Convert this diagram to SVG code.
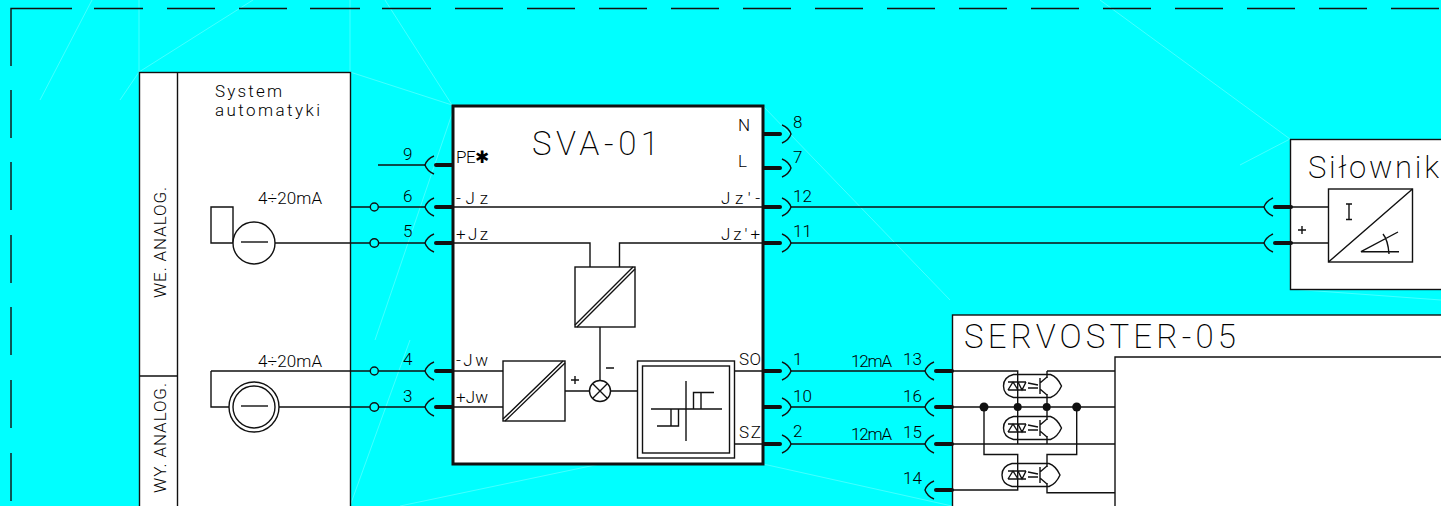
<svg xmlns="http://www.w3.org/2000/svg" xmlns:xlink="http://www.w3.org/1999/xlink" width="1441" height="506" viewBox="0 0 1441 506">
<style>
.l{fill:none;stroke:#111;stroke-width:1.4}
.b{fill:#fff;stroke:#111;stroke-width:1.4}
.dash{fill:none;stroke:#111;stroke-width:1.4}
.f{fill:none;stroke:#fff;stroke-width:.6;opacity:.45}
.dot{fill:#111;stroke:none}
.t{font-family:"Roboto","Liberation Sans",sans-serif;font-weight:300;fill:#000;font-size:17px}
.big{font-size:33px;font-weight:200}
.bar{stroke:#111;stroke-width:4;stroke-linecap:round;fill:none}
</style>
<defs>
<g id="tl"><path class="l" d="M9,-9Q2,-6 0,0Q2,6 9,9"/><path class="bar" d="M11,0H27"/></g>
<g id="tr"><path class="l" d="M-9,-9Q-2,-6 0,0Q-2,6 -9,9"/><path class="bar" d="M-27,0H-11"/></g>
<g id="opto">
<path class="l" d="M0,-4H18M0,4H18M0,4L5,-4L10,4M10,-4L14,4L18,-4"/>
<path class="l" d="M20,-3L30,-1M20,2H30"/>
<path class="l" d="M32,-8V8M32,-3L39,-9M32,3L39,9"/>
</g>
<path id="shell" class="l" d="M10,-11.500H47Q54,-9 58,0Q54,9 47,11.500H10Q0,9 0,0Q0,-9 10,-11.500Z"/>
</defs>
<rect width="1441" height="506" fill="#0ff"/>
<g id="background-lines">
<path class="f" d="M139,72V0M139,72L253,0M350,72V0M385,0L452,105M350,72L452,105M139,72L120,100M92,0L40,100M763,106L950,300M763,464L952,506M600,464L400,506M350,506L410,340M455,105L375,340M1290,139L1240,165M1290,289L1441,300M1100,0L1290,139"/>
</g>
<g id="frame">
<path class="dash" d="M11,66V8.500H72M94,8.500H143M167,8.500H215M239,8.500H287M310,8.500H360M382,8.500H431M455,8.500H503M527,8.500H575M599,8.500H647M671,8.500H719M743,8.500H791M815,8.500H863M887,8.500H935M959,8.500H1007M1031,8.500H1079M1103,8.500H1151M1175,8.500H1223M1247,8.500H1295M1319,8.500H1367M1391,8.500H1439"/>
<path class="dash" d="M11,90V138M11,162V210M11,235V283M11,307V355M11,380V428M11,453V501"/>
</g>
<g id="system-automatyki">
<rect class="b" x="139.500" y="72.500" width="211" height="440"/>
<path class="l" d="M177.500,72.500V506M139.500,376H177.500"/>
<text class="t" x="215" y="97" textLength="67" lengthAdjust="spacing">System</text>
<text class="t" x="215" y="116" textLength="105" lengthAdjust="spacing">automatyki</text>
<text class="t" transform="translate(166,298) rotate(-90)" textLength="111" lengthAdjust="spacing">WE. ANALOG.</text>
<text class="t" transform="translate(166,493) rotate(-90)" textLength="110" lengthAdjust="spacing">WY. ANALOG.</text>
<text class="t" x="258" y="204" textLength="64" lengthAdjust="spacing">4÷20mA</text>
<text class="t" x="258" y="367" textLength="64" lengthAdjust="spacing">4÷20mA</text>
<path class="l" d="M233,243H211V207H233V243"/>
<circle class="b" cx="254" cy="243" r="21"/>
<path class="l" d="M241,242H268"/>
<circle class="b" cx="254" cy="407" r="25"/>
<circle class="b" cx="254" cy="407" r="21"/>
<path class="l" d="M241,406H268"/>
</g>
<g id="sva-01">
<rect x="453" y="106" width="310" height="358" fill="#fff" stroke="#111" stroke-width="3"/>
<text class="t big" x="532" y="155" textLength="127" lengthAdjust="spacing">SVA-01</text>
<text class="t" x="456" y="163" textLength="33" lengthAdjust="spacing">PE✱</text>
<text class="t" x="456" y="204" textLength="32" lengthAdjust="spacing">-Jz</text>
<text class="t" x="456" y="240" textLength="32" lengthAdjust="spacing">+Jz</text>
<text class="t" x="456" y="366" textLength="32" lengthAdjust="spacing">-Jw</text>
<text class="t" x="456" y="403" textLength="32" lengthAdjust="spacing">+Jw</text>
<text class="t" x="738" y="131">N</text>
<text class="t" x="738" y="167">L</text>
<text class="t" x="721" y="204" textLength="39" lengthAdjust="spacing">Jz'-</text>
<text class="t" x="721" y="240" textLength="39" lengthAdjust="spacing">Jz'+</text>
<text class="t" x="739" y="365" textLength="22" lengthAdjust="spacing">SO</text>
<text class="t" x="739" y="438" textLength="22" lengthAdjust="spacing">SZ</text>
<rect class="b" x="575" y="267" width="60" height="60"/>
<path class="l" d="M575,325L633,267M577,327L635,269"/>
<rect class="b" x="503" y="361" width="62" height="60"/>
<path class="l" d="M503,419L563,361M505,421L565,363"/>
<circle class="b" cx="600" cy="391" r="10.500"/>
<path class="l" d="M592.500,383.500L607.500,398.500M607.500,383.500L592.500,398.500"/>
<path class="l" d="M571,380H579M575,376V384M606,368H614"/>
<rect class="b" x="637.500" y="361" width="97" height="97"/>
<rect class="b" x="642.500" y="366" width="87" height="87"/>
<path class="l" d="M686,381V441M651,409H722M693.500,409V392.500H714M701,392.500V409M657,426H678.500V409M671,409V426"/>
</g>
<g id="silownik">
<rect class="b" x="1290.500" y="139.500" width="160" height="150"/>
<text class="t big" x="1308" y="178" style="font-size:31px" textLength="131" lengthAdjust="spacing">Siłownik</text>
<rect class="b" x="1328.500" y="189" width="84" height="73"/>
<path class="l" d="M1328.500,262L1412.500,189M1346,204H1352M1349,204V219.500M1346,219.500H1352M1399,251.700H1361L1398,232M1383,234Q1388,240 1389,254M1298,230H1306M1302,226V234"/>
</g>
<g id="servoster-05">
<rect class="b" x="952.500" y="315" width="500" height="200"/>
<text class="t big" x="964" y="348" textLength="272" lengthAdjust="spacing">SERVOSTER-05</text>
<path class="l" d="M1450,357H1115V506"/>
<g id="opto-1"><use xlink:href="#shell" href="#shell" x="1003.500" y="386"/><use xlink:href="#opto" href="#opto" x="1008" y="386"/></g>
<g id="opto-2"><use xlink:href="#shell" href="#shell" x="1003.500" y="428"/><use xlink:href="#opto" href="#opto" x="1008" y="428"/></g>
<g id="opto-3"><use xlink:href="#shell" href="#shell" x="1002" y="475"/><use xlink:href="#opto" href="#opto" x="1008" y="475"/></g>
</g>
<g id="connectors">
<path class="l" d="M350,207H370M378.500,207H425M275,243H370M378.500,243H425M378,165H425"/>
<path class="l" d="M211,371H370M378.500,371H425M279,407H370M378.500,407H425M211,371V407H229"/>
<circle class="l" cx="374.300" cy="207" r="4"/>
<circle class="l" cx="374.300" cy="243" r="4.300"/>
<circle class="l" cx="374.300" cy="371" r="4"/>
<circle class="l" cx="374.300" cy="407" r="4.300"/>
<use xlink:href="#tl" href="#tl" x="425" y="165"/>
<use xlink:href="#tl" href="#tl" x="425" y="207"/>
<use xlink:href="#tl" href="#tl" x="425" y="243"/>
<use xlink:href="#tl" href="#tl" x="425" y="371"/>
<use xlink:href="#tl" href="#tl" x="425" y="407"/>
<use xlink:href="#tr" href="#tr" x="791" y="134"/>
<use xlink:href="#tr" href="#tr" x="791" y="168"/>
<use xlink:href="#tr" href="#tr" x="791" y="207"/>
<use xlink:href="#tr" href="#tr" x="791" y="243"/>
<use xlink:href="#tr" href="#tr" x="791" y="371"/>
<use xlink:href="#tr" href="#tr" x="791" y="407"/>
<use xlink:href="#tr" href="#tr" x="791" y="444"/>
<use xlink:href="#tl" href="#tl" x="1264" y="207"/>
<use xlink:href="#tl" href="#tl" x="1264" y="243"/>
<use xlink:href="#tl" href="#tl" x="925" y="371"/>
<use xlink:href="#tl" href="#tl" x="925" y="407"/>
<use xlink:href="#tl" href="#tl" x="925" y="444"/>
<use xlink:href="#tl" href="#tl" x="925" y="490"/>
<path class="l" d="M453,207H763M453,243H590V267M763,243H619.500V267M453,371H503M453,407H503M565,391H589.500M610.500,391H637.500M600,327V380.500M734.500,371H763M734.500,444H763"/>
<path class="l" d="M791,207H1264M791,243H1264M1290,207H1328.500M1290,243H1328.500M791,371H925M791,407H925M791,444H925"/>
<path class="l" d="M952,371H1017.700V444M1047,371H1115M1047,371V378M1047,394V420M1047,436V444M952,407H1115M952,444H1115"/>
<path class="l" d="M984,407V454.500H1017.700V490H952M1076.700,407V454.500H1047V467M1047,483V492.700H1115"/>
<circle class="dot" cx="984" cy="407" r="4.500"/>
<circle class="dot" cx="1017.700" cy="407" r="4"/>
<circle class="dot" cx="1046.700" cy="407" r="4"/>
<circle class="dot" cx="1076.700" cy="407" r="4.500"/>
</g>
<g id="terminal-labels">
<text class="t" x="403" y="160">9</text>
<text class="t" x="403" y="202">6</text>
<text class="t" x="403" y="237">5</text>
<text class="t" x="403" y="365">4</text>
<text class="t" x="403" y="402">3</text>
<text class="t" x="793" y="128">8</text>
<text class="t" x="793" y="163">7</text>
<text class="t" x="793" y="202" textLength="19">12</text>
<text class="t" x="793" y="237" textLength="19">11</text>
<text class="t" x="793" y="365">1</text>
<text class="t" x="793" y="402" textLength="19">10</text>
<text class="t" x="793" y="437">2</text>
<text class="t" x="851" y="367" textLength="41" lengthAdjust="spacing">12mA</text>
<text class="t" x="851" y="440" textLength="41" lengthAdjust="spacing">12mA</text>
<text class="t" x="903" y="365" textLength="19">13</text>
<text class="t" x="903" y="402" textLength="19">16</text>
<text class="t" x="903" y="438" textLength="19">15</text>
<text class="t" x="903" y="484" textLength="19">14</text>
</g>
</svg>
